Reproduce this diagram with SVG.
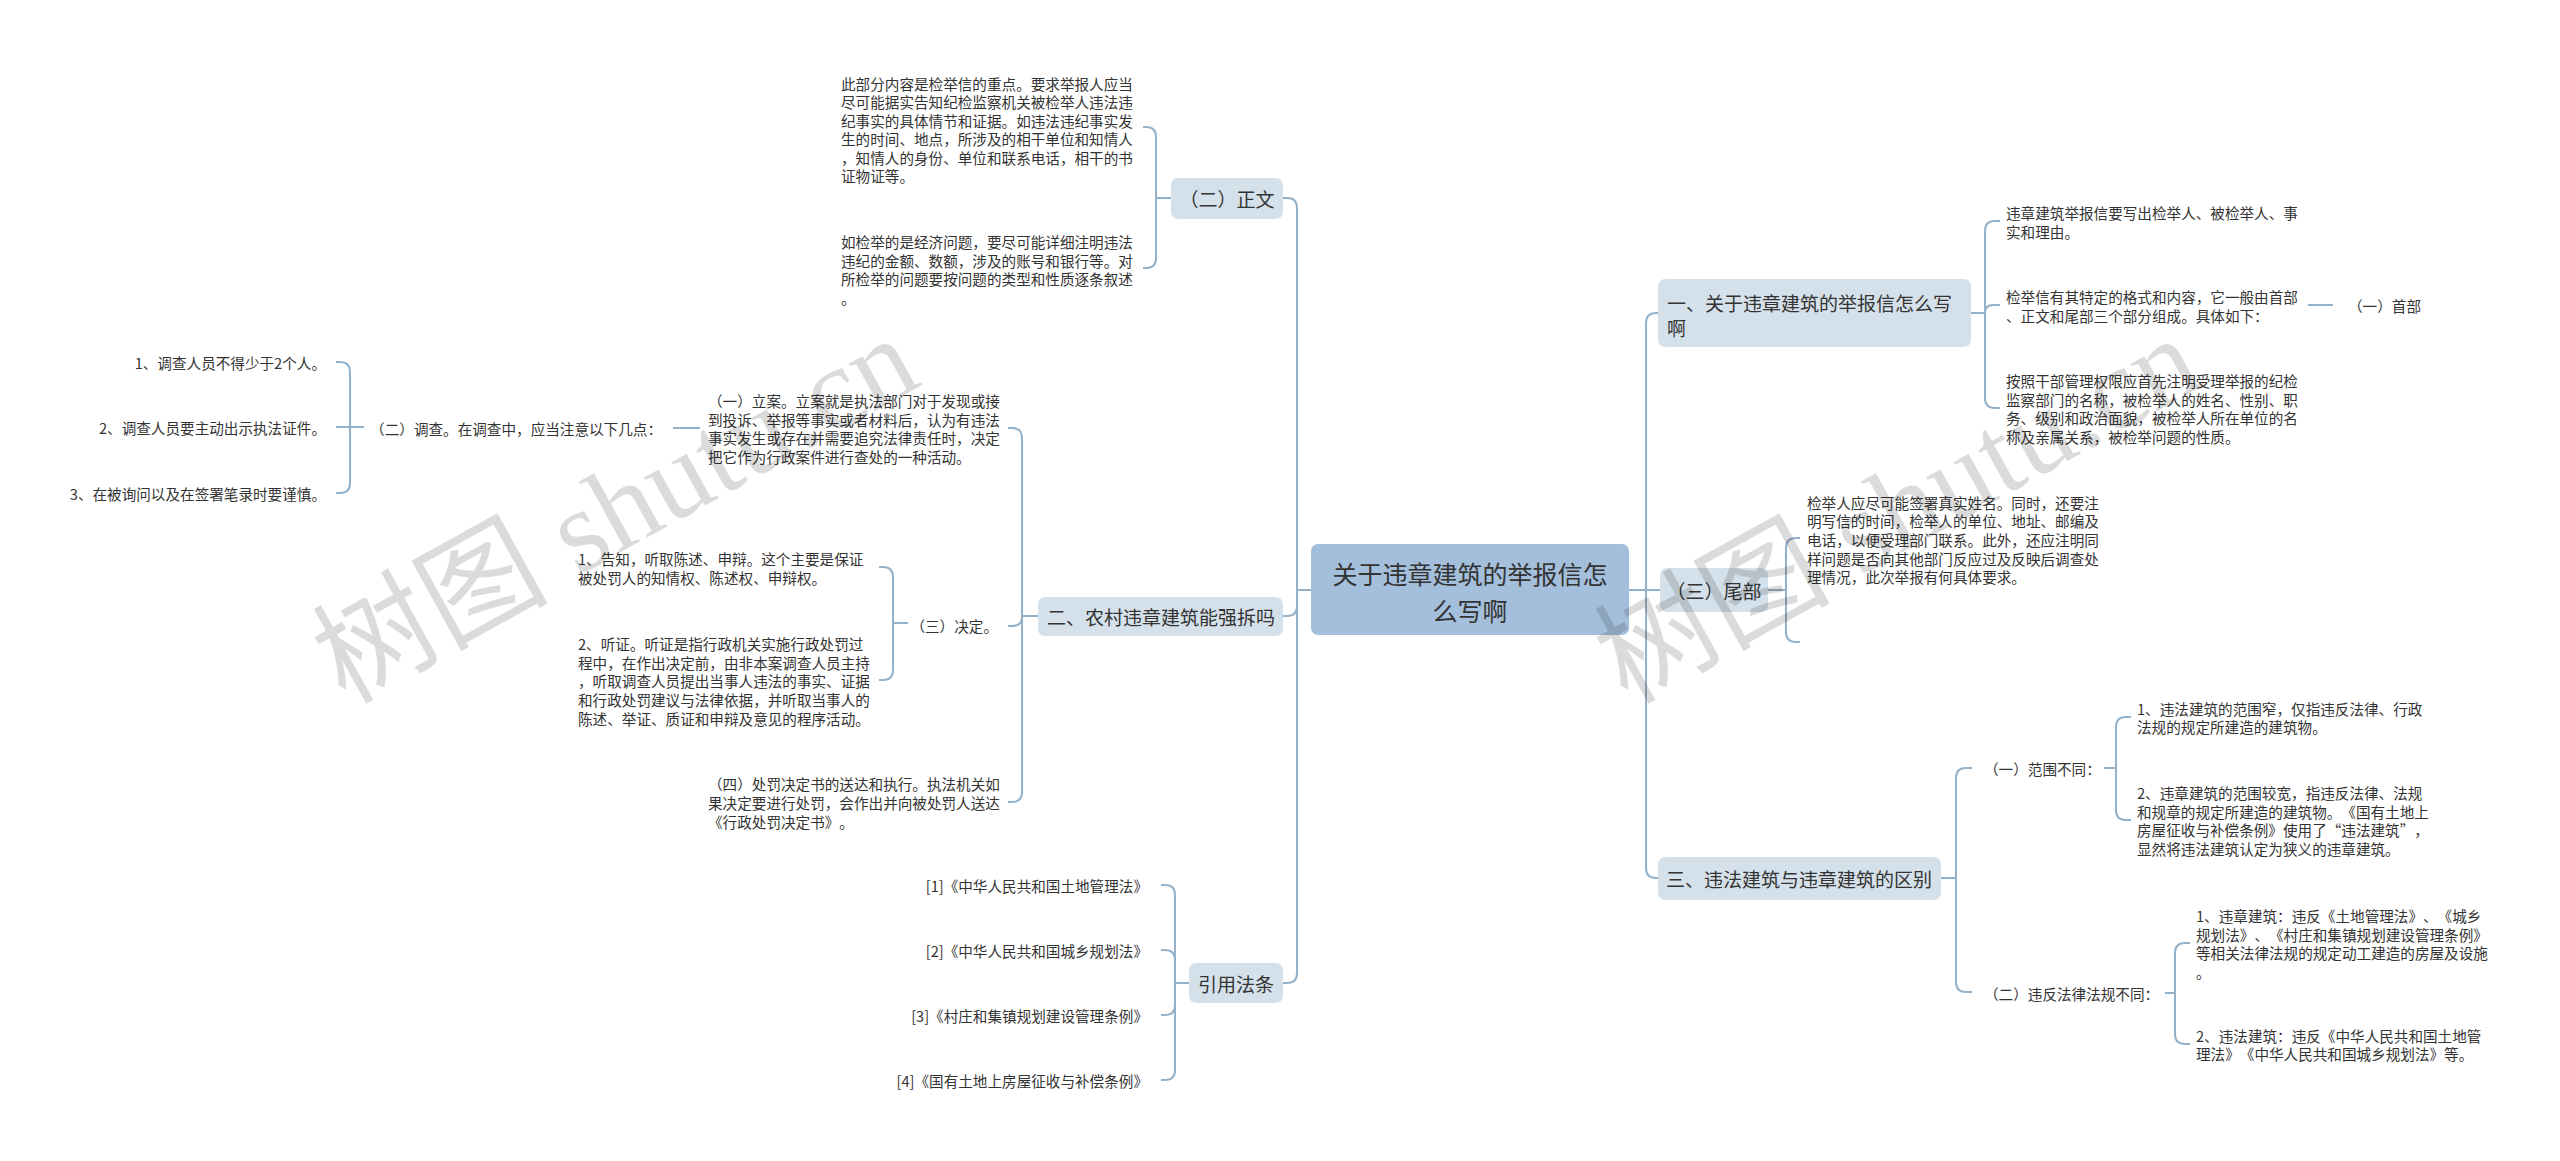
<svg xmlns="http://www.w3.org/2000/svg" width="2560" height="1161" viewBox="0 0 2560 1161">
<style>
text,tspan{font-family:"Noto Sans CJK SC","Noto Sans",sans-serif;fill:#333;dominant-baseline:central;text-spacing-trim:space-all}
.s{font-size:14.6px}
.m{font-size:19px}
.r{font-size:25px;fill:#222}
.e{text-anchor:end}
.mid{text-anchor:middle}
.b1{fill:#d5e1ea}
.b0{fill:#a3bfdb}
#connectors path{fill:none;stroke:#94b1ca;stroke-width:2}
.wm{font-family:"Liberation Serif","Noto Sans CJK SC",serif;font-size:118px;fill:#000;fill-opacity:0.14;dominant-baseline:auto}
</style>
<rect width="2560" height="1161" fill="#fff"/>
<g id="connectors">
<path d="M1629,590 H1646 V323 Q1646,313 1656,313 H1658"/>
<path d="M1629,590 H1660"/>
<path d="M1629,590 H1646 V868 Q1646,878 1656,878 H1658"/>
<path d="M1971,313 H1985 V231 Q1985,221 1995,221 H2000"/>
<path d="M1971,313 H1985 Q1985,305 1993,305 H2000"/>
<path d="M1971,313 H1985 V398 Q1985,408 1995,408 H2000"/>
<path d="M2308,305 H2333"/>
<path d="M1768,590 H1786 V548 Q1786,538 1796,538 H1800"/>
<path d="M1768,590 H1786 V632 Q1786,642 1796,642 H1800"/>
<path d="M1941,878 H1956 V778 Q1956,768 1966,768 H1972"/>
<path d="M1941,878 H1956 V982 Q1956,992 1966,992 H1972"/>
<path d="M2104,768 H2116 V727 Q2116,717 2126,717 H2131"/>
<path d="M2104,768 H2116 V810 Q2116,820 2126,820 H2131"/>
<path d="M2165,993 H2175 V953 Q2175,943 2185,943 H2190"/>
<path d="M2165,993 H2175 V1034 Q2175,1044 2185,1044 H2190"/>
<path d="M1311,590 H1297 V208 Q1297,198 1287,198 H1283"/>
<path d="M1311,590 H1297 V606 Q1297,616 1287,616 H1283"/>
<path d="M1311,590 H1297 V973 Q1297,983 1287,983 H1283"/>
<path d="M1171,198 H1156 V137 Q1156,127 1146,127 H1143"/>
<path d="M1171,198 H1156 V258 Q1156,268 1146,268 H1143"/>
<path d="M1038,616 H1022 V438 Q1022,428 1012,428 H1008"/>
<path d="M1038,616 H1022 V617 Q1022,626 1012,626 H1008"/>
<path d="M1038,616 H1022 V792 Q1022,802 1012,802 H1008"/>
<path d="M700,428 H673"/>
<path d="M364,427 H350 V372 Q350,362 340,362 H336"/>
<path d="M364,427 H336"/>
<path d="M364,427 H350 V483 Q350,493 340,493 H336"/>
<path d="M908,623 H893 V577 Q893,567 883,567 H879"/>
<path d="M908,623 H893 V670 Q893,680 883,680 H879"/>
<path d="M1189,983 H1175 V895 Q1175,885 1165,885 H1161"/>
<path d="M1189,983 H1175 V960 Q1175,950 1165,950 H1161"/>
<path d="M1189,983 H1175 V1005 Q1175,1015 1165,1015 H1161"/>
<path d="M1189,983 H1175 V1070 Q1175,1080 1165,1080 H1161"/>
</g>
<g id="root">
<rect class="b0" x="1311" y="544" width="318" height="91" rx="7"/>
<text class="r mid"><tspan x="1470" y="573">关于违章建筑的举报信怎</tspan><tspan x="1470" y="610">么写啊</tspan></text>
</g>
<g id="n-yi">
<rect class="b1" x="1658" y="279" width="313" height="68" rx="7"/>
<text class="m"><tspan x="1667" y="302">一、关于违章建筑的举报信怎么写</tspan><tspan x="1667" y="327">啊</tspan></text>
</g>
<g id="n-yi-1"><text class="s"><tspan x="2006" y="212">违章建筑举报信要写出检举人、被检举人、事</tspan><tspan x="2006" y="230.6">实和理由。</tspan></text></g>
<g id="n-yi-2"><text class="s"><tspan x="2006" y="296">检举信有其特定的格式和内容，它一般由首部</tspan><tspan x="2006" y="314.6">、正文和尾部三个部分组成。具体如下：</tspan></text></g>
<g id="n-shoubu"><text class="s" x="2348" y="305">（一）首部</text></g>
<g id="n-yi-3"><text class="s"><tspan x="2006" y="380">按照干部管理权限应首先注明受理举报的纪检</tspan><tspan x="2006" y="398.6">监察部门的名称，被检举人的姓名、性别、职</tspan><tspan x="2006" y="417.2">务、级别和政治面貌，被检举人所在单位的名</tspan><tspan x="2006" y="435.8">称及亲属关系，被检举问题的性质。</tspan></text></g>
<g id="n-weibu">
<rect class="b1" x="1660" y="568" width="108" height="44" rx="7"/>
<text class="m mid" x="1714" y="590">（三）尾部</text>
</g>
<g id="n-weibu-1"><text class="s"><tspan x="1807" y="501.6">检举人应尽可能签署真实姓名。同时，还要注</tspan><tspan x="1807" y="520.3">明写信的时间，检举人的单位、地址、邮编及</tspan><tspan x="1807" y="539">电话，以便受理部门联系。此外，还应注明同</tspan><tspan x="1807" y="557.7">样问题是否向其他部门反应过及反映后调查处</tspan><tspan x="1807" y="576.4">理情况，此次举报有何具体要求。</tspan></text></g>
<g id="n-san">
<rect class="b1" x="1658" y="857" width="283" height="43" rx="7"/>
<text class="m" x="1666" y="878">三、违法建筑与违章建筑的区别</text>
</g>
<g id="n-fanwei"><text class="s" x="1984" y="768">（一）范围不同：</text></g>
<g id="n-fanwei-1"><text class="s"><tspan x="2137" y="707.7">1、违法建筑的范围窄，仅指违反法律、行政</tspan><tspan x="2137" y="726.3">法规的规定所建造的建筑物。</tspan></text></g>
<g id="n-fanwei-2"><text class="s"><tspan x="2137" y="792">2、违章建筑的范围较宽，指违反法律、法规</tspan><tspan x="2137" y="810.7">和规章的规定所建造的建筑物。《国有土地上</tspan><tspan x="2137" y="829.3">房屋征收与补偿条例》使用了“违法建筑”，</tspan><tspan x="2137" y="848">显然将违法建筑认定为狭义的违章建筑。</tspan></text></g>
<g id="n-weifan"><text class="s" x="1984" y="993">（二）违反法律法规不同：</text></g>
<g id="n-weifan-1"><text class="s"><tspan x="2196" y="915">1、违章建筑：违反《土地管理法》、《城乡</tspan><tspan x="2196" y="933.7">规划法》、《村庄和集镇规划建设管理条例》</tspan><tspan x="2196" y="952.3">等相关法律法规的规定动工建造的房屋及设施</tspan><tspan x="2196" y="971">。</tspan></text></g>
<g id="n-weifan-2"><text class="s"><tspan x="2196" y="1034.7">2、违法建筑：违反《中华人民共和国土地管</tspan><tspan x="2196" y="1053.3">理法》《中华人民共和国城乡规划法》等。</tspan></text></g>
<g id="n-zhengwen">
<rect class="b1" x="1171" y="178" width="112" height="41" rx="7"/>
<text class="m mid" x="1227" y="198">（二）正文</text>
</g>
<g id="n-zhengwen-1"><text class="s"><tspan x="841" y="82.8">此部分内容是检举信的重点。要求举报人应当</tspan><tspan x="841" y="101.3">尽可能据实告知纪检监察机关被检举人违法违</tspan><tspan x="841" y="119.8">纪事实的具体情节和证据。如违法违纪事实发</tspan><tspan x="841" y="138.3">生的时间、地点，所涉及的相干单位和知情人</tspan><tspan x="841" y="156.8">，知情人的身份、单位和联系电话，相干的书</tspan><tspan x="841" y="175.3">证物证等。</tspan></text></g>
<g id="n-zhengwen-2"><text class="s"><tspan x="841" y="241">如检举的是经济问题，要尽可能详细注明违法</tspan><tspan x="841" y="259.5">违纪的金额、数额，涉及的账号和银行等。对</tspan><tspan x="841" y="278">所检举的问题要按问题的类型和性质逐条叙述</tspan><tspan x="841" y="297">。</tspan></text></g>
<g id="n-er">
<rect class="b1" x="1038" y="597" width="245" height="39" rx="7"/>
<text class="m" x="1047" y="616">二、农村违章建筑能强拆吗</text>
</g>
<g id="n-lian"><text class="s"><tspan x="708" y="400">（一）立案。立案就是执法部门对于发现或接</tspan><tspan x="708" y="418.7">到投诉、举报等事实或者材料后，认为有违法</tspan><tspan x="708" y="437.4">事实发生或存在并需要追究法律责任时，决定</tspan><tspan x="708" y="456.1">把它作为行政案件进行查处的一种活动。</tspan></text></g>
<g id="n-diaocha"><text class="s e" x="662" y="428">（二）调查。在调查中，应当注意以下几点：</text></g>
<g id="n-diaocha-1"><text class="s e" x="326" y="362">1、调查人员不得少于2个人。</text></g>
<g id="n-diaocha-2"><text class="s e" x="326" y="427">2、调查人员要主动出示执法证件。</text></g>
<g id="n-diaocha-3"><text class="s e" x="326" y="493">3、在被询问以及在签署笔录时要谨慎。</text></g>
<g id="n-jueding"><text class="s e" x="998" y="625">（三）决定。</text></g>
<g id="n-jueding-1"><text class="s"><tspan x="578" y="558">1、告知，听取陈述、申辩。这个主要是保证</tspan><tspan x="578" y="576.7">被处罚人的知情权、陈述权、申辩权。</tspan></text></g>
<g id="n-jueding-2"><text class="s"><tspan x="578" y="643">2、听证。听证是指行政机关实施行政处罚过</tspan><tspan x="578" y="661.7">程中，在作出决定前，由非本案调查人员主持</tspan><tspan x="578" y="680.4">，听取调查人员提出当事人违法的事实、证据</tspan><tspan x="578" y="699.1">和行政处罚建议与法律依据，并听取当事人的</tspan><tspan x="578" y="717.8">陈述、举证、质证和申辩及意见的程序活动。</tspan></text></g>
<g id="n-si"><text class="s"><tspan x="708" y="783">（四）处罚决定书的送达和执行。执法机关如</tspan><tspan x="708" y="802">果决定要进行处罚，会作出并向被处罚人送达</tspan><tspan x="708" y="821">《行政处罚决定书》。</tspan></text></g>
<g id="n-yinyong">
<rect class="b1" x="1189" y="963" width="94" height="40" rx="7"/>
<text class="m mid" x="1236" y="983">引用法条</text>
</g>
<g id="n-law-1"><text class="s e" x="1148" y="885">[1]《中华人民共和国土地管理法》</text></g>
<g id="n-law-2"><text class="s e" x="1148" y="950">[2]《中华人民共和国城乡规划法》</text></g>
<g id="n-law-3"><text class="s e" x="1148" y="1015">[3]《村庄和集镇规划建设管理条例》</text></g>
<g id="n-law-4"><text class="s e" x="1148" y="1080">[4]《国有土地上房屋征收与补偿条例》</text></g>
<g id="watermark">
<text class="wm" transform="translate(345,705) rotate(-29)">树图 shutu.cn</text>
<text class="wm" transform="translate(1627,705) rotate(-29)">树图 shutu.cn</text>
</g>
</svg>
